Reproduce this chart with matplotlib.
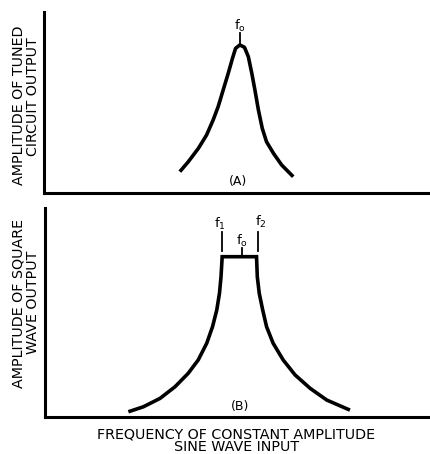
import matplotlib
matplotlib.use("Agg")
import matplotlib.pyplot as plt

# ---- data (normalised frequency 0-100, amplitude 0-100) ----
tuned_freq = [35.1, 37.3, 39.9, 42.0, 43.7, 45.0, 46.3, 47.6, 48.7, 49.5, 50.6,
              51.8, 52.8, 53.7, 54.5, 55.4, 56.4, 57.5, 59.3, 61.4, 64.4]
tuned_amp = [11.8, 17.3, 24.7, 32.0, 40.3, 47.7, 56.9, 66.1, 74.4, 79.9, 81.8,
             80.5, 75.3, 66.1, 56.9, 45.9, 35.7, 28.3, 21.9, 15.5, 9.0]

square_freq = [21.6, 25.5, 29.8, 33.7, 37.1, 39.7, 41.9, 43.4, 44.5, 45.2, 45.6, 45.9,
               54.8, 55.0, 55.5, 56.4, 57.4, 59.1, 61.7, 64.8, 68.7, 73.0, 79.0]
square_amp = [2.5, 4.9, 8.9, 14.5, 20.9, 27.3, 35.3, 43.2, 51.2, 59.2, 67.1, 76.7,
              76.7, 67.1, 59.2, 51.2, 43.2, 35.3, 27.3, 20.1, 13.7, 8.1, 3.3]

f0_a = 50.6
f0_b = 51.0
f1_b = 45.9
f2_b = 55.1

panel_labels = ["(A)", "(B)"]
ylabels_a = ["AMPLITUDE OF TUNED", "CIRCUIT OUTPUT"]
ylabels_b = ["AMPLITUDE OF SQUARE", "WAVE OUTPUT"]
xlabels = ["FREQUENCY OF CONSTANT AMPLITUDE", "SINE WAVE INPUT"]

W, H = 431, 454
fig = plt.figure(figsize=(W / 100, H / 100), dpi=100)
fig.patch.set_facecolor("white")

def px_axes(left, top, right, bottom):
    return fig.add_axes([left / W, 1 - bottom / H, (right - left) / W, (bottom - top) / H])

lw_axis = 2.2
lw_curve = 2.6
font = "DejaVu Sans"

def style(ax):
    ax.set_xlim(0, 100)
    ax.set_ylim(0, 100)
    ax.set_xticks([])
    ax.set_yticks([])
    for s in ["top", "right"]:
        ax.spines[s].set_visible(False)
    for s in ["left", "bottom"]:
        ax.spines[s].set_linewidth(lw_axis)
        ax.spines[s].set_capstyle("projecting")
    ax.patch.set_alpha(0)

# Panel A
axA = px_axes(44, 12, 431, 193)
style(axA)
axA.plot(tuned_freq, tuned_amp, color="black", lw=lw_curve, solid_capstyle="butt", solid_joinstyle="round")
axA.plot([f0_a, f0_a], [81.5, 88.5], color="black", lw=1.3)
axA.text(f0_a, 88.0, r"$\mathregular{f_o}$", ha="center", va="bottom", fontsize=9.5, family=font)
axA.text(f0_a - 0.5, 3.0, panel_labels[0], ha="center", va="bottom", fontsize=9, family=font)

# Panel B
axB = px_axes(45, 208, 431, 417)
style(axB)
axB.plot(square_freq, square_amp, color="black", lw=lw_curve, solid_capstyle="butt", solid_joinstyle="miter")
axB.plot([f0_b, f0_b], [76.7, 81.0], color="black", lw=1.3)
axB.plot([f1_b, f1_b], [79.5, 88.7], color="black", lw=1.3)
axB.plot([f2_b, f2_b], [79.5, 88.7], color="black", lw=1.3)
axB.text(f0_b, 80.5, r"$\mathregular{f_o}$", ha="center", va="bottom", fontsize=9.5, family=font)
axB.text(f1_b - 0.6, 88.5, r"$\mathregular{f_1}$", ha="center", va="bottom", fontsize=9.5, family=font)
axB.text(f2_b + 0.8, 89.5, r"$\mathregular{f_2}$", ha="center", va="bottom", fontsize=9.5, family=font)
axB.text(f0_b - 0.5, 2.0, panel_labels[1], ha="center", va="bottom", fontsize=9, family=font)

# Axis labels
fs = 10.3
kw = dict(rotation=90, rotation_mode="anchor", ha="center", va="baseline", fontsize=fs, family=font)
fig.text(23 / W, 1 - 105 / H, ylabels_a[0], **kw)
fig.text(37 / W, 1 - 97 / H, ylabels_a[1], **kw)
fig.text(23 / W, 1 - 303 / H, ylabels_b[0], **kw)
fig.text(37 / W, 1 - 302 / H, ylabels_b[1], **kw)
fig.text(236.5 / W, 1 - 438 / H, xlabels[0], ha="center", va="baseline", fontsize=fs, family=font)
fig.text(236.5 / W, 1 - 451 / H, xlabels[1], ha="center", va="baseline", fontsize=fs, family=font)

fig.savefig("out.png", dpi=100, facecolor="white")
